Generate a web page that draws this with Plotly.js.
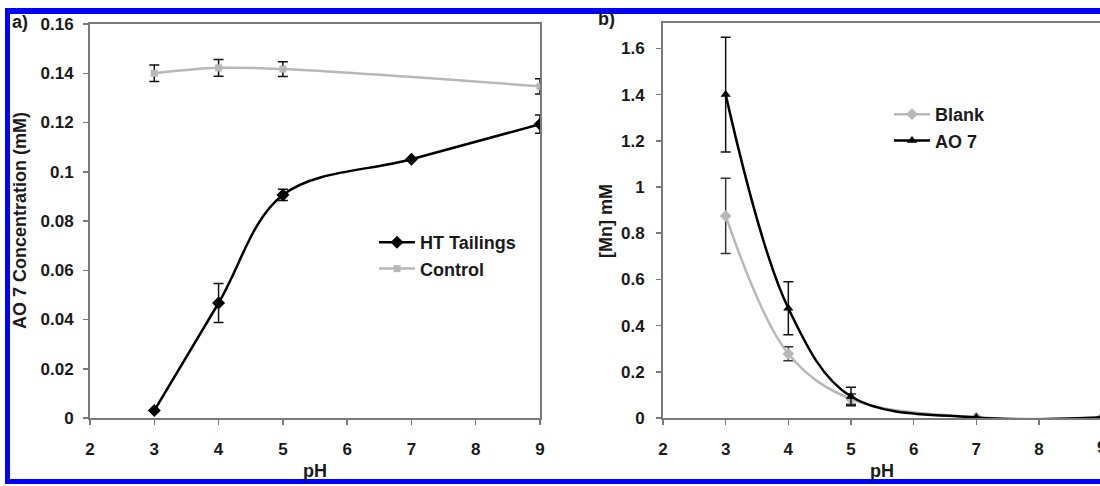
<!DOCTYPE html>
<html>
<head>
<meta charset="utf-8">
<script src="https://cdn.plot.ly/plotly-3.0.1.min.js"></script>
<style>html,body{margin:0;padding:0;background:#fff;}#chart{width:1100px;height:486px;}</style>
</head>
<body>
<div id="chart"></div>
<script>
// ---- Panel a) data ----
const phHT = [3, 4, 5, 7, 9];
const htTailings = [0.003, 0.0467, 0.0906, 0.1051, 0.1193];
const htErr = [0.0, 0.0079, 0.0023, 0.0, 0.0037];
const phControl = [3, 4, 5, 9];
const control = [0.1400, 0.1422, 0.1417, 0.1347];
const controlErr = [0.0033, 0.0034, 0.0030, 0.0031];

// ---- Panel b) data ----
const phMn = [3, 4, 5, 7, 9];
const blank = [0.875, 0.278, 0.082, 0.003, 0.002];
const blankErr = [0.163, 0.03, 0.022, 0, 0];
const ao7 = [1.400, 0.475, 0.093, 0.002, 0.003];
const ao7Err = [0.248, 0.115, 0.04, 0, 0];

const W = 1100, H = 486;
const px = v => v / W;
const py = v => 1 - v / H;
const FONT = "Liberation Sans, Arial, sans-serif";
const bold = (s) => ({family: FONT, size: s, color: '#1a1a1a', weight: 'bold'});

const traces = [
  {x: phHT, y: htTailings, name: 'HT Tailings', type: 'scatter', mode: 'lines+markers',
   line: {color: '#000000', width: 2.5, shape: 'spline', smoothing: 1},
   marker: {symbol: 'diamond', size: 10, color: '#000000'},
   error_y: {type: 'data', array: htErr, visible: true, color: '#111111', thickness: 1.5, width: 5},
   xaxis: 'x', yaxis: 'y', legend: 'legend'},
  {x: phControl, y: control, name: 'Control', type: 'scatter', mode: 'lines+markers',
   line: {color: '#b8b8b8', width: 2.5, shape: 'spline', smoothing: 1},
   marker: {symbol: 'square', size: 7, color: '#b8b8b8'},
   error_y: {type: 'data', array: controlErr, visible: true, color: '#111111', thickness: 1.5, width: 5},
   xaxis: 'x', yaxis: 'y', legend: 'legend'},
  {x: phMn, y: blank, name: 'Blank', type: 'scatter', mode: 'lines+markers',
   line: {color: '#b8b8b8', width: 2.5, shape: 'spline', smoothing: 1},
   marker: {symbol: 'diamond', size: 9, color: '#b8b8b8'},
   error_y: {type: 'data', array: blankErr, visible: true, color: '#333333', thickness: 1.5, width: 5},
   xaxis: 'x2', yaxis: 'y2', legend: 'legend2'},
  {x: phMn, y: ao7, name: 'AO 7', type: 'scatter', mode: 'lines+markers',
   line: {color: '#000000', width: 2.5, shape: 'spline', smoothing: 1},
   marker: {symbol: 'triangle-up', size: 9, color: '#000000'},
   error_y: {type: 'data', array: ao7Err, visible: true, color: '#111111', thickness: 1.5, width: 5},
   xaxis: 'x2', yaxis: 'y2', legend: 'legend2'}
];

const axisCommon = {
  showgrid: false, zeroline: false, showline: true, linecolor: '#7a7a7a', linewidth: 2,
  ticks: 'outside', ticklen: 5, tickwidth: 1.5, tickcolor: '#7a7a7a',
  tickfont: bold(17),
  mirror: true
};

const layout = {
  width: W, height: H,
  margin: {l: 0, r: 0, t: 0, b: 0},
  paper_bgcolor: '#ffffff', plot_bgcolor: '#ffffff',
  font: bold(17),
  showlegend: true,
  xaxis: Object.assign({}, axisCommon, {domain: [px(90), px(540)], range: [2, 9], dtick: 1, anchor: 'y', ticklabelstandoff: 10}),
  yaxis: Object.assign({}, axisCommon, {domain: [py(418), py(24)], range: [0, 0.16], dtick: 0.02, anchor: 'x', ticklabelstandoff: 6}),
  xaxis2: Object.assign({}, axisCommon, {domain: [px(663), 1], range: [2, 2 + 437 / 62.67], dtick: 1, anchor: 'y2', ticklabelstandoff: 10}),
  yaxis2: Object.assign({}, axisCommon, {domain: [py(418), py(23)], range: [0, 1.71], dtick: 0.2, anchor: 'x2', mirror: false, ticklabelstandoff: 8}),
  legend: {x: px(374), y: py(224), xanchor: 'left', yanchor: 'top', bgcolor: 'rgba(0,0,0,0)',
           font: bold(18), tracegroupgap: 0, itemwidth: 36},
  legend2: {x: px(889), y: py(96), xanchor: 'left', yanchor: 'top', bgcolor: 'rgba(0,0,0,0)',
            font: bold(18), tracegroupgap: 0, itemwidth: 36},
  annotations: [
    {text: 'a)', x: px(10), y: py(22), xref: 'paper', yref: 'paper', xanchor: 'left', yanchor: 'middle', showarrow: false, font: bold(18)},
    {text: 'b)', x: px(596), y: py(19), xref: 'paper', yref: 'paper', xanchor: 'left', yanchor: 'middle', showarrow: false, font: bold(18)},
    {text: 'pH', x: px(315), y: py(471), xref: 'paper', yref: 'paper', xanchor: 'center', yanchor: 'middle', showarrow: false, font: bold(18)},
    {text: 'pH', x: px(882), y: py(471), xref: 'paper', yref: 'paper', xanchor: 'center', yanchor: 'middle', showarrow: false, font: bold(18)},
    {text: 'AO 7 Concentration (mM)', x: px(20), y: py(221), xref: 'paper', yref: 'paper', xanchor: 'center', yanchor: 'middle',
     textangle: -90, showarrow: false, font: bold(18)},
    {text: '[Mn] mM', x: px(606), y: py(221), xref: 'paper', yref: 'paper', xanchor: 'center', yanchor: 'middle',
     textangle: -90, showarrow: false, font: bold(18)},
    {text: '9', x: px(1101), y: py(447), xref: 'paper', yref: 'paper', xanchor: 'center', yanchor: 'middle', showarrow: false, font: bold(17)}
  ],
  shapes: [
    {type: 'line', xref: 'paper', yref: 'paper', x0: px(5), x1: px(1110), y0: py(11), y1: py(11), line: {color: '#0000ff', width: 6}},
    {type: 'line', xref: 'paper', yref: 'paper', x0: px(7.5), x1: px(7.5), y0: py(8), y1: py(484), line: {color: '#0000ff', width: 5}},
    {type: 'line', xref: 'paper', yref: 'paper', x0: px(5), x1: px(1110), y0: py(481.5), y1: py(481.5), line: {color: '#0000ff', width: 5}}
  ]
};

Plotly.newPlot('chart', traces, layout, {displayModeBar: false, staticPlot: true});
</script>
</body>
</html>
